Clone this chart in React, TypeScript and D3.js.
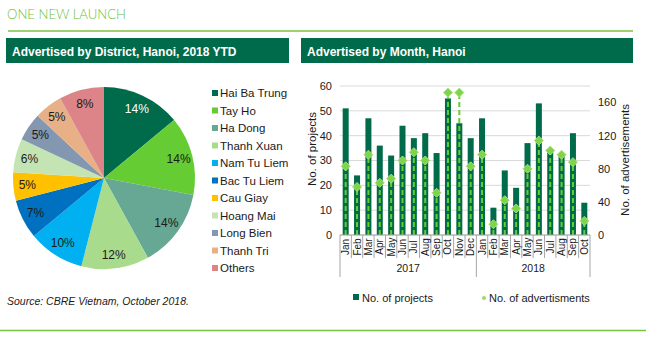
import React from "react";
import * as d3 from "d3";

const districts = ["Hai Ba Trung", "Tay Ho", "Ha Dong", "Thanh Xuan", "Nam Tu Liem", "Bac Tu Liem", "Cau Giay", "Hoang Mai", "Long Bien", "Thanh Tri", "Others"];
const shares = [14, 14, 14, 12, 10, 7, 5, 6, 5, 5, 8];
const pieColors = ["#006b4a", "#66cc33", "#66a893", "#a9db8c", "#00b0f0", "#0070c0", "#ffc000", "#c5e4b4", "#8497b0", "#e8b086", "#dc8487"];

const months = ["Jan", "Feb", "Mar", "Apr", "May", "Jun", "Jul", "Aug", "Sep", "Oct", "Nov", "Dec", "Jan", "Feb", "Mar", "Apr", "May", "Jun", "Jul", "Aug", "Sep", "Oct"];
const years = ["2017", "2018"];
const yearCounts = [12, 10];
const projects = [51, 24, 47, 36, 32, 44, 39, 41, 33, 55, 45, 39, 47, 11, 26, 19, 37, 53, 34, 32, 41, 13];
const adverts = [83, 58, 97, 63, 68, 90, 100, 90, 51, 172, 172, 83, 97, 13, 42, 32, 80, 114, 102, 97, 88, 17];
const leftTicks = [0, 10, 20, 30, 40, 50, 60];
const rightTicks = [0, 40, 80, 120, 160];

const FONT = "'Liberation Sans', Arial, sans-serif";
const DARK = "#006b4a";
const LIGHT = "#66cc33";

export default function App() {
  const W = 646, H = 337;
  const cx = 104, cy = 178, R = 91;
  const pie = d3.pie<number>().sort(null).value((d) => d)(shares);
  const arc = d3.arc<d3.PieArcDatum<number>>().innerRadius(0).outerRadius(R);
  const labelArc = d3.arc<d3.PieArcDatum<number>>().innerRadius(77).outerRadius(77);

  const x0 = 340, x1 = 590, yTop = 86, yBot = 235;
  const idx = months.map((_, i) => i);
  const x = d3.scaleBand<number>().domain(idx).range([x0, x1]).paddingInner(0).paddingOuter(0);
  const yL = d3.scaleLinear().domain([0, 60]).range([yBot, yTop]);
  const yR = d3.scaleLinear().domain([0, 180]).range([yBot, yTop]);
  const bw = 6;

  const groupBounds: number[] = [];
  let acc = 0;
  groupBounds.push(acc);
  yearCounts.forEach((c) => { acc += c; groupBounds.push(acc); });
  const xAt = (i: number) => x0 + i * x.bandwidth();

  return (
    <svg width={W} height={H} style={{ position: "absolute", left: 0, top: 0 }} fontFamily={FONT}>
      <rect width={W} height={H} fill="#fff" />
      <text x={7} y={19} fontFamily="Lato, 'DejaVu Sans', sans-serif" fontWeight={300} fontSize={13} fill="#6cc23a" textLength={119} lengthAdjust="spacingAndGlyphs">ONE NEW LAUNCH</text>
      <line x1={8} x2={633} y1={31} y2={31} stroke="#7cc242" strokeWidth={1.5} />
      <rect x={6} y={38} width={283} height={25} fill={DARK} />
      <text x={12} y={56} fontSize={12} fontWeight="bold" fill="#fff">Advertised by District, Hanoi, 2018 YTD</text>
      <rect x={301} y={38} width={332} height={25} fill={DARK} />
      <text x={307} y={56} fontSize={12} fontWeight="bold" fill="#fff">Advertised by Month, Hanoi</text>

      {/* Pie */}
      <g transform={`translate(${cx},${cy})`}>
        {pie.map((p, i) => (
          <path key={i} d={arc(p) || ""} fill={pieColors[i]} />
        ))}
        {pie.map((p, i) => {
          const [lx, ly] = labelArc.centroid(p);
          return (
            <text key={"l" + i} x={lx} y={ly} dy="0.35em" textAnchor="middle" fontSize={12} fill={i === 0 ? "#fff" : "#1a1a1a"}>
              {shares[i]}%
            </text>
          );
        })}
      </g>
      {districts.map((d, i) => (
        <g key={d} transform={`translate(212,${93 + i * 17.5})`}>
          <rect x={0} y={-3} width={6} height={6} fill={pieColors[i]} />
          <text x={8} y={0} dy="0.35em" fontSize={11.5} fill="#1a1a1a">{d}</text>
        </g>
      ))}
      <text x={7} y={305} fontSize={10.5} fontStyle="italic" fill="#1a1a1a">Source: CBRE Vietnam, October 2018.</text>

      {/* Bar chart */}
      {leftTicks.map((t) => (
        <line key={"g" + t} x1={x0} x2={x1} y1={yL(t)} y2={yL(t)} stroke="#d9d9d9" strokeWidth={1} />
      ))}
      {leftTicks.map((t) => (
        <text key={"lt" + t} x={332} y={yL(t)} dy="0.35em" textAnchor="end" fontSize={11} fill="#1a1a1a">{t}</text>
      ))}
      {rightTicks.map((t) => (
        <text key={"rt" + t} x={598} y={yR(t)} dy="0.35em" textAnchor="start" fontSize={11} fill="#1a1a1a">{t}</text>
      ))}
      <text transform={`translate(312,149) rotate(-90)`} textAnchor="middle" dy="0.35em" fontSize={11.5} fill="#1a1a1a">No. of projects</text>
      <text transform={`translate(625,160) rotate(-90)`} textAnchor="middle" dy="0.35em" fontSize={11.5} fill="#1a1a1a">No. of advertisements</text>

      {projects.map((v, i) => (
        <rect key={"b" + i} x={(x(i) || 0) + (x.bandwidth() - bw) / 2} y={yL(v)} width={bw} height={yBot - yL(v)} fill={DARK} />
      ))}
      {adverts.map((v, i) => {
        const cxm = (x(i) || 0) + x.bandwidth() / 2;
        return (
          <line key={"d" + i} x1={cxm} x2={cxm} y1={yBot} y2={yR(v)} stroke={LIGHT} strokeWidth={2} strokeDasharray="5,3" />
        );
      })}
      {adverts.map((v, i) => {
        const cxm = (x(i) || 0) + x.bandwidth() / 2;
        const cyv = yR(v);
        const s = 4.5;
        return (
          <path key={"m" + i} d={`M${cxm},${cyv - s}L${cxm + s},${cyv}L${cxm},${cyv + s}L${cxm - s},${cyv}Z`} fill="#7fd44a" stroke="#a8e07c" strokeWidth={1} />
        );
      })}

      {/* x axis */}
      <line x1={x0} x2={x1} y1={yBot} y2={yBot} stroke="#a6a6a6" strokeWidth={1} />
      {idx.map((i) => (
        groupBounds.includes(i) ? null : <line key={"t" + i} x1={xAt(i)} x2={xAt(i)} y1={yBot} y2={258} stroke="#a6a6a6" strokeWidth={1} />
      ))}
      {groupBounds.map((g) => (
        <line key={"gb" + g} x1={xAt(g)} x2={xAt(g)} y1={yBot} y2={277} stroke="#a6a6a6" strokeWidth={1} />
      ))}
      {months.map((m, i) => (
        <text key={"mo" + i} transform={`translate(${(x(i) || 0) + x.bandwidth() / 2},247) rotate(-90)`} textAnchor="middle" dy="0.35em" fontSize={10} fill="#1a1a1a">{m}</text>
      ))}
      {years.map((yv, k) => (
        <text key={yv} x={(xAt(groupBounds[k]) + xAt(groupBounds[k + 1])) / 2} y={272} textAnchor="middle" fontSize={10.5} fill="#1a1a1a">{yv}</text>
      ))}

      {/* legend */}
      <rect x={353} y={294} width={6} height={6} fill={DARK} />
      <text x={362} y={302} fontSize={11} fill="#1a1a1a">No. of projects</text>
      <circle cx={484} cy={298} r={2} fill="#99dd66" />
      <text x={489} y={302} fontSize={11} fill="#1a1a1a">No. of advertisments</text>

      <line x1={0} x2={W} y1={330.5} y2={330.5} stroke="#7cc242" strokeWidth={1.5} />
    </svg>
  );
}
